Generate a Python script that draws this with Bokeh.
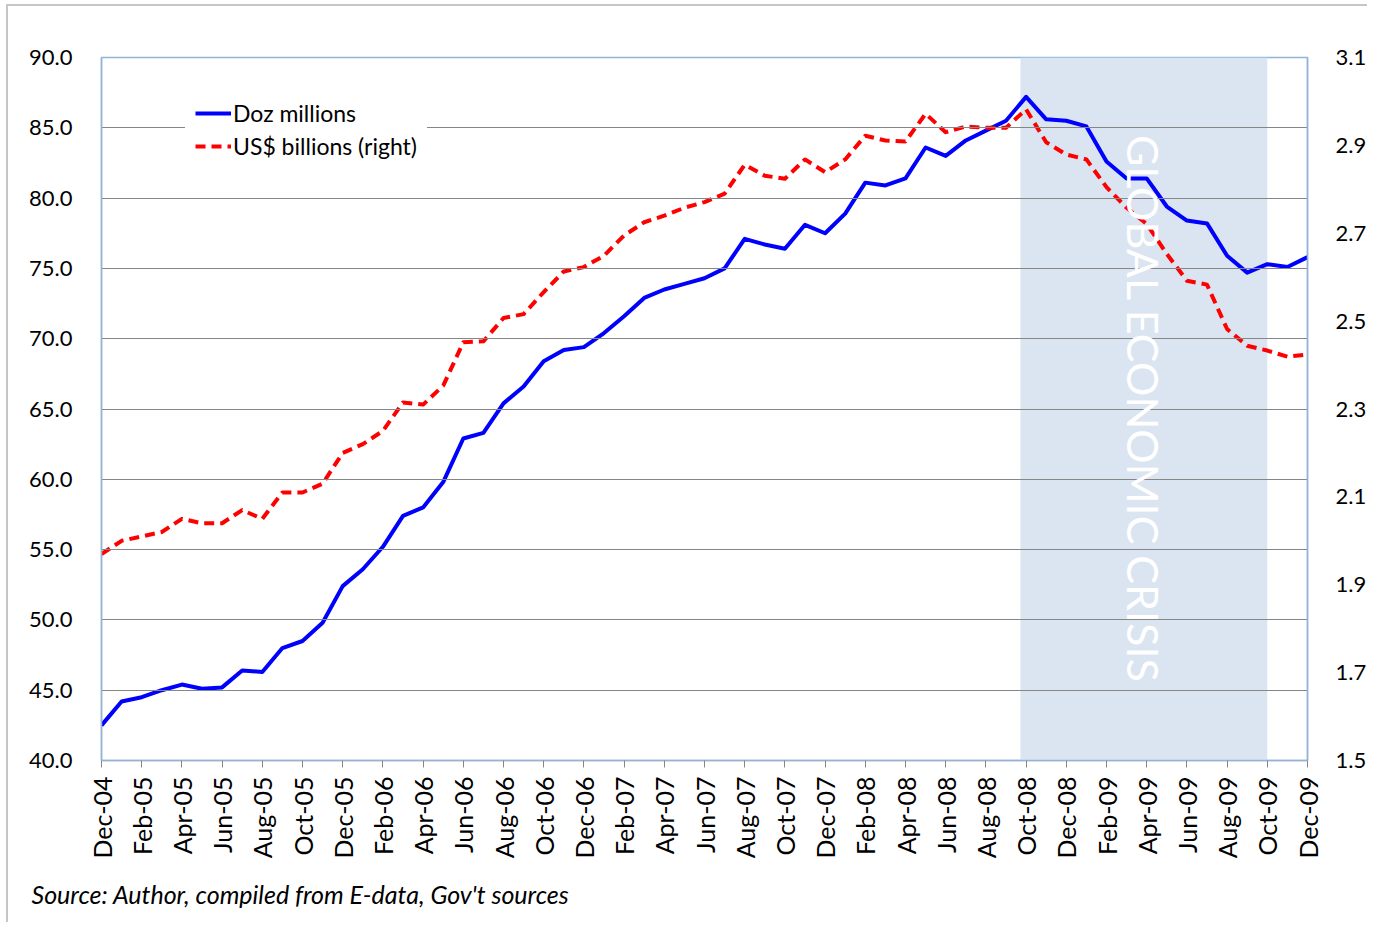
import math
from bokeh.plotting import figure
from bokeh.models import (Range1d, LinearAxis, FixedTicker, NumeralTickFormatter,
                          BoxAnnotation, Label, Legend, LegendItem, Title, ColumnDataSource)
from bokeh.embed import file_html
from bokeh.resources import INLINE

# ---------------- data ----------------
months = [
    "Dec-04",
    "Jan-05", "Feb-05", "Mar-05", "Apr-05", "May-05", "Jun-05",
    "Jul-05", "Aug-05", "Sep-05", "Oct-05", "Nov-05", "Dec-05",
    "Jan-06", "Feb-06", "Mar-06", "Apr-06", "May-06", "Jun-06",
    "Jul-06", "Aug-06", "Sep-06", "Oct-06", "Nov-06", "Dec-06",
    "Jan-07", "Feb-07", "Mar-07", "Apr-07", "May-07", "Jun-07",
    "Jul-07", "Aug-07", "Sep-07", "Oct-07", "Nov-07", "Dec-07",
    "Jan-08", "Feb-08", "Mar-08", "Apr-08", "May-08", "Jun-08",
    "Jul-08", "Aug-08", "Sep-08", "Oct-08", "Nov-08", "Dec-08",
    "Jan-09", "Feb-09", "Mar-09", "Apr-09", "May-09", "Jun-09",
    "Jul-09", "Aug-09", "Sep-09", "Oct-09", "Nov-09", "Dec-09",
]

doz_millions = [
    42.5,
    44.2, 44.5, 45.0, 45.4, 45.1, 45.2,
    46.4, 46.3, 48.0, 48.5, 49.8, 52.4,
    53.6, 55.2, 57.4, 58.0, 59.8, 62.9,
    63.3, 65.4, 66.6, 68.4, 69.2, 69.4,
    70.4, 71.6, 72.9, 73.5, 73.9, 74.3,
    75.0, 77.1, 76.7, 76.4, 78.1, 77.5,
    78.9, 81.1, 80.9, 81.4, 83.6, 83.0,
    84.1, 84.8, 85.5, 87.2, 85.6, 85.5,
    85.1, 82.6, 81.4, 81.4, 79.4, 78.4,
    78.2, 75.9, 74.7, 75.3, 75.1, 75.8,
]

usd_billions = [
    1.97,
    2.00, 2.01, 2.02, 2.05, 2.04, 2.04,
    2.07, 2.05, 2.11, 2.11, 2.13, 2.20,
    2.22, 2.25, 2.315, 2.31, 2.353, 2.452,
    2.454, 2.507, 2.516, 2.566, 2.613, 2.623,
    2.649, 2.695, 2.725, 2.740, 2.758, 2.771,
    2.790, 2.856, 2.831, 2.824, 2.868, 2.839,
    2.868, 2.922, 2.911, 2.909, 2.972, 2.930,
    2.943, 2.940, 2.940, 2.982, 2.907, 2.879,
    2.868, 2.805, 2.758, 2.721, 2.653, 2.592,
    2.583, 2.482, 2.444, 2.433, 2.419, 2.424,
]

left_ticks = [40.0, 45.0, 50.0, 55.0, 60.0, 65.0, 70.0, 75.0, 80.0, 85.0, 90.0]
right_ticks = [1.5, 1.7, 1.9, 2.1, 2.3, 2.5, 2.7, 2.9, 3.1]

series_names = ["Doz millions", "US$ billions (right)"]
crisis_label = "GLOBAL ECONOMIC CRISIS"
crisis_start, crisis_end = "Oct-08", "Oct-09"
source_note = "Source: Author, compiled from E-data, Gov't sources"

# ---------------- figure ----------------
FONT = "Lato"
idx = list(range(len(months)))
src = ColumnDataSource(dict(x=idx, doz=doz_millions, usd=usd_billions, month=months))

p = figure(width=1361, height=918,
           x_range=Range1d(idx[0], idx[-1]),
           y_range=Range1d(left_ticks[0], left_ticks[-1]),
           output_backend="svg", toolbar_location=None,
           min_border_left=93, min_border_right=58,
           min_border_top=51, min_border_bottom=164)
p.extra_y_ranges = {"usd": Range1d(right_ticks[0], right_ticks[-1])}
p.background_fill_color = "white"
p.border_fill_color = "white"
p.outline_line_color = "#95b3d7"
p.outline_line_width = 1.5
p.styles = {"margin-left": "6px", "margin-top": "4px",
            "border-left": "2px solid #c6c6c6", "border-top": "2px solid #c6c6c6"}

AX = "#95b3d7"

# x axis
xa = p.xaxis[0]
xa.ticker = FixedTicker(ticks=idx[::2])
xa.major_label_overrides = {i: months[i] for i in idx[::2]}
xa.major_label_orientation = math.pi / 2
xa.major_label_text_font = FONT
xa.major_label_text_font_size = "25px"
xa.major_label_text_color = "black"
xa.major_label_standoff = 9
xa.axis_line_color = AX
xa.axis_line_width = 1.5
xa.major_tick_line_color = "#868686"
xa.major_tick_out = 7
xa.major_tick_in = 0
xa.minor_tick_line_color = None

# left axis
ya = p.yaxis[0]
ya.ticker = FixedTicker(ticks=left_ticks)
ya.formatter = NumeralTickFormatter(format="0.0")
ya.major_label_text_font = FONT
ya.major_label_text_font_size = "22px"
ya.major_label_text_color = "black"
ya.major_label_standoff = 29
ya.axis_line_color = AX
ya.axis_line_width = 1.5
ya.major_tick_line_color = None
ya.major_tick_out = 0
ya.major_tick_in = 0
ya.minor_tick_line_color = None

# right axis
ra = LinearAxis(y_range_name="usd", ticker=FixedTicker(ticks=right_ticks),
                formatter=NumeralTickFormatter(format="0.0"))
ra.major_label_text_font = FONT
ra.major_label_text_font_size = "22px"
ra.major_label_text_color = "black"
ra.major_label_standoff = 28
ra.axis_line_color = AX
ra.axis_line_width = 1.5
ra.major_tick_line_color = None
ra.major_tick_out = 0
ra.major_tick_in = 0
ra.minor_tick_line_color = None
p.add_layout(ra, "right")

# grid
p.xgrid.visible = False
p.ygrid.grid_line_color = "#868686"
p.ygrid.grid_line_width = 1
p.ygrid.level = "glyph"

# crisis shading
s_i = months.index(crisis_start) - 0.28
e_i = months.index(crisis_end)
p.add_layout(BoxAnnotation(left=s_i, right=e_i, fill_color="#dbe5f1", fill_alpha=1.0,
                           line_alpha=0, level="underlay"))

# lines
r1 = p.line("x", "doz", source=src, line_color="#0000ff", line_width=4, line_join="round")
r2 = p.line("x", "usd", source=src, y_range_name="usd", line_color="#ff0000",
            line_width=4, line_dash="10 6", line_join="round")

# crisis label
p.add_layout(Label(x=(s_i + e_i) / 2, y=(left_ticks[0] + left_ticks[-1]) / 2,
                   text=crisis_label, angle=-math.pi / 2,
                   text_align="center", text_baseline="middle",
                   text_color="white", text_font=FONT, text_font_size="43px"))

# legend
legend = Legend(items=[LegendItem(label=series_names[0], renderers=[r1]),
                       LegendItem(label=series_names[1], renderers=[r2])],
                location=(84, 590))
legend.background_fill_color = "white"
legend.background_fill_alpha = 1.0
legend.border_line_alpha = 0
legend.padding = 10
legend.spacing = 5
legend.margin = 0
legend.glyph_width = 36
legend.glyph_height = 26
legend.label_height = 26
legend.label_standoff = 2
legend.label_text_font = FONT
legend.label_text_font_size = "23px"
legend.label_text_color = "black"
p.add_layout(legend)

# source note
p.add_layout(Title(text=source_note, text_font=FONT, text_font_size="25px",
                   text_font_style="italic", text_color="black", align="left",
                   offset=-70, standoff=31), "below")

open("out.html", "w").write(file_html(p, INLINE))
